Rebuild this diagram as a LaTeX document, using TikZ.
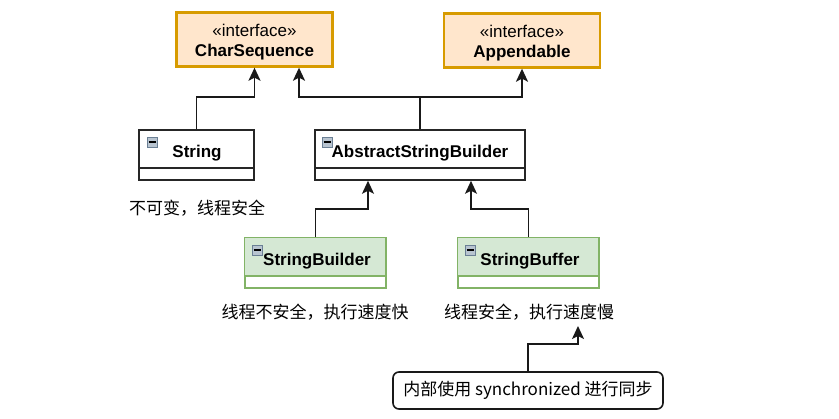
\documentclass[tikz,border=0pt]{standalone}
\usepackage{fontspec}
\setmainfont{Liberation Sans}
\newfontfamily\cjk{Noto Sans CJK SC}
\usetikzlibrary{arrows.meta}
\definecolor{ifaceborder}{HTML}{D79B00}
\definecolor{ifacefill}{HTML}{FFE6CC}
\definecolor{greenborder}{HTML}{82B366}
\definecolor{greenfill}{HTML}{D5E8D4}
\definecolor{iconfill}{HTML}{B8C4D0}
\definecolor{iconborder}{HTML}{6A7F94}
\begin{document}
\begin{tikzpicture}[x=1pt,y=-1pt,
  iface/.style={draw=ifaceborder, fill=ifacefill, line width=2.4pt, minimum width=156pt, minimum height=54pt, inner sep=0pt},
  ifacetext/.style={inner sep=0pt, align=center, font=\fontsize{17}{20}\selectfont},
  clsbox/.style={draw=black!85, line width=1.6pt, fill=white, minimum height=50pt, inner sep=0pt},
  greenbox/.style={draw=greenborder, line width=1.6pt, fill=white, minimum height=50pt, inner sep=0pt},
  clsname/.style={font=\fontsize{17}{20}\selectfont\bfseries, inner sep=0pt},
  lbl/.style={font=\cjk\fontsize{17}{20}\selectfont, inner sep=0pt},
  arr/.style={line width=1.7pt, draw=black!90, -{Stealth[length=13pt,width=12pt,inset=3pt]}},
  icon/.style={draw=iconborder, fill=iconfill, line width=0.8pt, minimum size=10pt, inner sep=0pt}
]
\useasboundingbox (0,0) rectangle (839,419);

% interfaces
\node[iface] (cs) at (254.5,39.5) {};
\node[ifacetext] (cst) at (254.5,42.5) {«interface»\\\textbf{CharSequence}};
\node[iface] (ap) at (522,40.5) {};
\node[ifacetext] (apt) at (522,43) {«interface»\\\textbf{Appendable}};

% String
\node[clsbox, minimum width=115pt] (str) at (196.5,155) {};
\draw[black!85, line width=1.6pt] (139,168) -- (254,168);
\node[clsname] (strn) at (197,153) {String};
\node[icon] (stri) at (152,142) {};
\draw[line width=1.2pt] (148.5,142) -- (155.5,142);

% AbstractStringBuilder
\node[clsbox, minimum width=210pt] (asb) at (420,155) {};
\draw[black!85, line width=1.6pt] (315,168) -- (525,168);
\node[clsname] (asbn) at (420,153) {AbstractStringBuilder};
\node[icon] (asbi) at (327,142) {};
\draw[line width=1.2pt] (323.5,142) -- (330.5,142);

% StringBuilder
\node[greenbox, minimum width=141pt] (sbd) at (315.5,263) {};
\fill[greenfill] ([shift={(0.8,0.8)}]sbd.north west) rectangle (385.2,276);
\draw[greenborder, line width=1.6pt] (245,276) -- (386,276);
\node[clsname] (sbdn) at (317,261) {StringBuilder};
\node[icon] (sbdi) at (257,250) {};
\draw[line width=1.2pt] (253.5,250) -- (260.5,250);

% StringBuffer
\node[greenbox, minimum width=141pt] (sbf) at (528.5,263) {};
\fill[greenfill] ([shift={(0.8,0.8)}]sbf.north west) rectangle (598.2,276);
\draw[greenborder, line width=1.6pt] (458,276) -- (599,276);
\node[clsname] (sbfn) at (530,261) {StringBuffer};
\node[icon] (sbfi) at (470,250) {};
\draw[line width=1.2pt] (466.5,250) -- (473.5,250);

% labels
\node[lbl] (l1) at (197,208) {不可变，线程安全};
\node[lbl] (l2) at (315,312) {线程不安全，执行速度快};
\node[lbl] (l3) at (529,312) {线程安全，执行速度慢};

% note
\node[draw=black!90, line width=1.6pt, rounded corners=6pt, minimum width=270pt, minimum height=37pt, inner sep=0pt, font=\cjk\fontsize{17}{20}\selectfont] (note) at (528,390.5) {内部使用 synchronized 进行同步};
\coordinate (notetip) at (578,326);

% connectors
\draw[arr] (str.north) -- ++(0,-32) -| (cs.south);
\draw[arr] (asb.north) -- ++(0,-32) -| ([xshift=44.5pt]cs.south);
\draw[arr] (asb.north) -- ++(0,-32) -| (ap.south);
\draw[arr] (sbd.north) -- ++(0,-28) -| ([xshift=-52pt]asb.south);
\draw[arr] (sbf.north) -- ++(0,-28) -| ([xshift=51pt]asb.south);
\draw[arr] (note.north) -- ++(0,-27) -| (notetip);
\end{tikzpicture}
\end{document}
